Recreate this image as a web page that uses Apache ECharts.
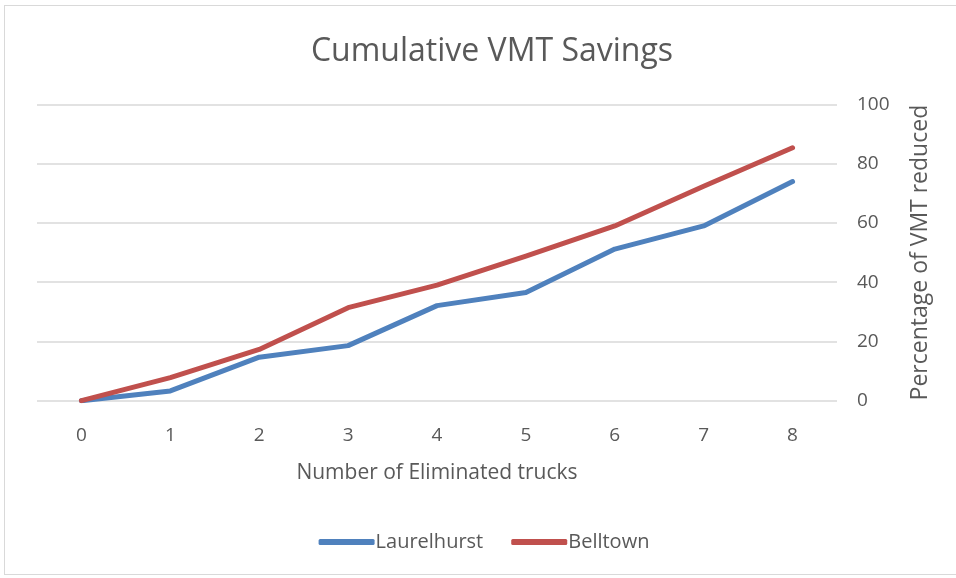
<!DOCTYPE html>
<html>
<head>
<meta charset="utf-8">
<script src="https://cdn.jsdelivr.net/npm/echarts@6/dist/echarts.min.js"></script>
<style>
  html, body { margin: 0; padding: 0; background: #fff; }
  #chart { position: absolute; left: 4px; top: 5px; width: 960px; height: 570px; border: 1px solid #d9d9d9; box-sizing: border-box; }
</style>
</head>
<body>
<div id="chart"></div>
<script>
// Données
const trucks = ['0', '1', '2', '3', '4', '5', '6', '7', '8'];
const laurelhurst = [0, 3.3, 14.7, 18.6, 32.1, 36.5, 51.2, 59.0, 74.0];
const belltown = [0, 7.8, 17.3, 31.4, 39.0, 48.8, 59.0, 72.4, 85.4];

const chart = echarts.init(document.getElementById('chart'));
const textColor = '#595959';
const font = 'Open Sans';

const options = {
    animation: false,
    title: {
        text: 'Cumulative VMT Savings',
        left: 486 - 4,
        textAlign: 'center',
        top: 25,
        textStyle: { fontFamily: font, fontSize: 32, fontWeight: 'normal', color: textColor }
    },
    grid: { left: 32, right: 126, top: 98.5, bottom: 173.3 },
    legend: {
        bottom: 17,
        left: 'center',
        itemWidth: 56,
        itemHeight: 6,
        itemGap: 28,
        textStyle: { fontFamily: font, fontSize: 20, color: textColor, padding: [0, 0, 0, -4] },
        data: [
            { name: 'Laurelhurst', icon: 'roundRect' },
            { name: 'Belltown', icon: 'roundRect' }
        ]
    },
    xAxis: {
        type: 'category',
        data: trucks,
        boundaryGap: true,
        name: 'Number of Eliminated trucks',
        nameLocation: 'middle',
        nameGap: 62,
        nameTextStyle: { fontFamily: font, fontSize: 21, color: textColor },
        axisLine: { show: false },
        axisTick: { show: false },
        axisLabel: { fontFamily: font, fontSize: 19, color: textColor, margin: 25 }
    },
    yAxis: {
        type: 'value',
        position: 'right',
        min: 0,
        max: 100,
        interval: 20,
        name: 'Percentage of VMT reduced',
        nameLocation: 'middle',
        nameRotate: 90,
        nameGap: 72,
        nameTextStyle: { fontFamily: font, fontSize: 23, color: textColor },
        axisLine: { show: false },
        axisTick: { show: false },
        axisLabel: { fontFamily: font, fontSize: 19, color: textColor, margin: 20 },
        splitLine: { lineStyle: { color: '#d9d9d9', width: 1.5 } }
    },
    series: [
        {
            name: 'Laurelhurst',
            type: 'line',
            data: laurelhurst,
            symbol: 'none',
            lineStyle: { width: 5, color: '#4F81BD', cap: 'round', join: 'round' },
            itemStyle: { color: '#4F81BD' }
        },
        {
            name: 'Belltown',
            type: 'line',
            data: belltown,
            symbol: 'none',
            lineStyle: { width: 5, color: '#C0504D', cap: 'round', join: 'round' },
            itemStyle: { color: '#C0504D' }
        }
    ]
};

chart.setOption(options);
window.addEventListener('resize', () => chart.resize());
</script>
</body>
</html>
